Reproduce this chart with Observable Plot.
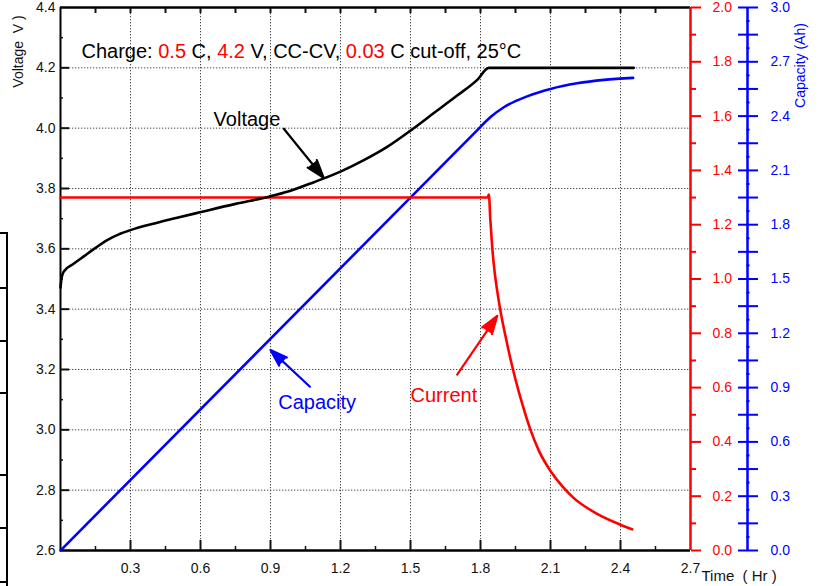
<!DOCTYPE html>
<html><head><meta charset="utf-8">
<script src="https://cdn.jsdelivr.net/npm/d3@7"></script>
<script src="https://cdn.jsdelivr.net/npm/@observablehq/plot@0.6"></script>
<style>
body{margin:0;background:#fff;}
#wrap{position:relative;width:820px;height:586px;overflow:hidden;background:#fff;}
#deco{position:absolute;left:0;top:233px;width:6px;height:360px;border-right:2px solid #000;}
.hl{position:absolute;left:0;width:8px;height:2px;background:#000;}
#chart{position:absolute;left:0;top:0;}
</style></head><body>
<div id="wrap">
<div id="chart"></div>
<div id="deco"></div>
<div class="hl" style="top:232px"></div>
<div class="hl" style="top:287px"></div>
<div class="hl" style="top:340px"></div>
<div class="hl" style="top:392px"></div>
<div class="hl" style="top:474px"></div>
<div class="hl" style="top:527px"></div>
<div class="hl" style="top:581px"></div>
</div>
<script>
// ---- data ----
const timeV   = [0, 0.004, 0.01, 0.02, 0.05, 0.1, 0.15, 0.2, 0.25, 0.3, 0.407, 0.5, 0.597, 0.75, 0.893, 0.979, 1.086, 1.2, 1.3, 1.4, 1.5, 1.6, 1.7, 1.786, 1.836, 2.0, 2.2, 2.457];
const voltage = [3.471, 3.50, 3.518, 3.530, 3.547, 3.575, 3.603, 3.629, 3.648, 3.662, 3.685, 3.703, 3.721, 3.749, 3.773, 3.791, 3.821, 3.856, 3.894, 3.938, 3.992, 4.05, 4.108, 4.16, 4.2, 4.2, 4.2, 4.2];

const timeI   = [0, 1.83, 1.836, 1.842, 1.85, 1.86, 1.871, 1.886, 1.907, 1.93, 1.95, 1.979, 2.014, 2.05, 2.1, 2.15, 2.2, 2.3, 2.4, 2.45];
const current = [1.3, 1.3, 1.311, 1.22, 1.12, 1.03, 0.96, 0.88, 0.79, 0.70, 0.63, 0.54, 0.445, 0.368, 0.293, 0.237, 0.193, 0.135, 0.095, 0.078];

const timeC    = [0, 1.78, 1.843, 1.9, 2.0, 2.1, 2.214, 2.329, 2.454];
const capacity = [0, 2.314, 2.395, 2.449, 2.509, 2.550, 2.581, 2.600, 2.611];

// ticks
const xLabelTicks = [0.3, 0.6, 0.9, 1.2, 1.5, 1.8, 2.1, 2.4, 2.7];
const xGridTicks  = [0.3, 0.6, 0.9, 1.2, 1.5, 1.8, 2.1, 2.4];
const xMinorTicks = [0.15, 0.45, 0.75, 1.05, 1.35, 1.65, 1.95, 2.25, 2.55];
const xTopTicks   = [0.15, 0.3, 0.45, 0.6, 0.75, 0.9, 1.05, 1.2, 1.35, 1.5, 1.65, 1.8, 1.95, 2.1, 2.25, 2.4, 2.55];
const vLabelTicks = [2.6, 2.8, 3.0, 3.2, 3.4, 3.6, 3.8, 4.0, 4.2, 4.4];
const vGridTicks  = [2.8, 3.0, 3.2, 3.4, 3.6, 3.8, 4.0, 4.2];
const vMinorTicks = [2.7, 2.9, 3.1, 3.3, 3.5, 3.7, 3.9, 4.1, 4.3];
const iLabelTicks = [0, 0.2, 0.4, 0.6, 0.8, 1.0, 1.2, 1.4, 1.6, 1.8, 2.0];
const iMinorTicks = [0.1, 0.3, 0.5, 0.7, 0.9, 1.1, 1.3, 1.5, 1.7, 1.9];
const cLabelTicks = [0, 0.3, 0.6, 0.9, 1.2, 1.5, 1.8, 2.1, 2.4, 2.7, 3.0];
const cMajorTicks = [0, 0.15, 0.3, 0.45, 0.6, 0.75, 0.9, 1.05, 1.2, 1.35, 1.5, 1.65, 1.8, 1.95, 2.1, 2.25, 2.4, 2.55, 2.7, 2.85, 3.0];
const cMinorTicks = [0.075, 0.225, 0.375, 0.525, 0.675, 0.825, 0.975, 1.125, 1.275, 1.425, 1.575, 1.725, 1.875, 2.025, 2.175, 2.325, 2.475, 2.625, 2.775, 2.925];

// annotations
const annLabels = ["Voltage", "Capacity", "Current"];
const annColors = ["black", "blue", "red"];
const annX      = [0.799, 1.1, 1.643];
const annY      = [4.027, 3.09, 3.115];
const arrowX1   = [0.957, 1.069, 1.7];
const arrowY1   = [3.998, 3.143, 3.183];
const arrowX2   = [1.128, 0.9, 1.872];
const arrowY2   = [3.835, 3.265, 3.378];

const chargeParts = [["Charge: ", "black"], ["0.5", "red"], [" C, ", "black"], ["4.2", "red"], [" V, CC-CV, ", "black"], ["0.03", "red"], [" C cut-off, 25°C", "black"]];
const chargeText = chargeParts.map(p => p[0]).join("");
const chargeX = 0.09, chargeY = 4.253;

// secondary axes mapped onto the voltage scale
const V0 = 2.6, voltsPerAmp = 0.9, voltsPerAh = 0.6;
const fromI = i => V0 + i * voltsPerAmp;
const fromC = c => V0 + c * voltsPerAh;

const vData = timeV.map((t, i) => ({t, v: voltage[i]}));
const iData = timeI.map((t, i) => ({t, v: fromI(current[i])}));
const cData = timeC.map((t, i) => ({t, v: fromC(capacity[i])}));
const anns = annLabels.map((s, i) => ({s, c: annColors[i], x: annX[i], y: annY[i], x1: arrowX1[i], y1: arrowY1[i], x2: arrowX2[i], y2: arrowY2[i]}));

const fmt1 = d3.format(".1f");
const dotted = {stroke: "#333", strokeWidth: 1, strokeDasharray: "1.3,1.7", strokeOpacity: 0.9};

const chart = Plot.plot({
  width: 820, height: 586,
  marginLeft: 60, marginRight: 130, marginTop: 7, marginBottom: 36,
  x: {domain: [0, 2.7]},
  y: {domain: [2.6, 4.4]},
  style: {fontFamily: "'Liberation Sans', Arial, sans-serif", fontSize: "14px", background: "white", color: "#111"},
  marks: [
    Plot.gridX(xGridTicks, dotted),
    Plot.gridY(vGridTicks, dotted),
    // frame
    Plot.ruleX([0], {stroke: "black", strokeWidth: 2}),
    Plot.ruleY([2.6], {stroke: "black", strokeWidth: 2.5}),
    Plot.ruleY([4.4], {stroke: "black", strokeWidth: 2.5}),
    // inward ticks
    Plot.axisX(xGridTicks, {anchor: "bottom", tickSize: 10, dy: -10, tickFormat: () => "", strokeWidth: 2, label: null}),
    Plot.axisX(xMinorTicks, {anchor: "bottom", tickSize: 4, dy: -4, tickFormat: () => "", strokeWidth: 1.5, label: null}),
    Plot.axisX(xTopTicks, {anchor: "top", tickSize: 5, dy: 5, tickFormat: () => "", strokeWidth: 2, label: null}),
    Plot.axisY(vGridTicks, {anchor: "left", tickSize: 9, dx: 9, tickFormat: () => "", strokeWidth: 2, label: null}),
    Plot.axisY(vMinorTicks, {anchor: "left", tickSize: 3, dx: 3, tickFormat: () => "", strokeWidth: 1.5, label: null}),
    // labels
    Plot.axisX(xLabelTicks, {anchor: "bottom", tickSize: 0, tickPadding: 13, tickFormat: fmt1, fontSize: 14, label: null}),
    Plot.axisY(vLabelTicks, {anchor: "left", tickSize: 0, tickPadding: 5, tickFormat: fmt1, fontSize: 14, label: null}),
    // current axis (red)
    Plot.ruleX([2.7], {stroke: "red", strokeWidth: 2.5}),
    Plot.axisY(iLabelTicks.map(fromI), {anchor: "right", tickSize: 10, tickPadding: 12, color: "red", strokeWidth: 2,
      tickFormat: v => fmt1((v - V0) / voltsPerAmp), fontSize: 14, label: null}),
    Plot.axisY(iMinorTicks.map(fromI), {anchor: "right", tickSize: 5, tickFormat: () => "", color: "red", strokeWidth: 2, label: null}),
    // capacity axis (blue)
    Plot.ruleX([2.7], {stroke: "blue", strokeWidth: 2.5, dx: 57}),
    Plot.axisY(cMajorTicks.map(fromC), {anchor: "right", tickSize: 20, dx: 47, tickFormat: () => "", color: "blue", strokeWidth: 2, label: null}),
    Plot.axisY(cMinorTicks.map(fromC), {anchor: "right", tickSize: 3, dx: 55.5, tickFormat: () => "", color: "blue", strokeWidth: 2, label: null}),
    Plot.axisY(cLabelTicks.map(fromC), {anchor: "right", tickSize: 0, tickPadding: 80, color: "blue",
      tickFormat: v => fmt1((v - V0) / voltsPerAh), fontSize: 14, label: null}),
    // series
    Plot.line(cData, {x: "t", y: "v", stroke: "blue", strokeWidth: 2.6, curve: "monotone-x"}),
    Plot.line(iData, {x: "t", y: "v", stroke: "red", strokeWidth: 2.6, curve: "monotone-x"}),
    Plot.line(vData, {x: "t", y: "v", stroke: "black", strokeWidth: 2.6, curve: "monotone-x"}),
    // annotations
    Plot.arrow(anns, {x1: "x1", y1: "y1", x2: "x2", y2: "y2", stroke: "c", strokeWidth: 2.2, headLength: 13, headAngle: 36}),
    Plot.text(anns, {x: "x", y: "y", text: "s", fill: "c", fontSize: 20, textAnchor: "middle", lineAnchor: "middle"}),
    Plot.text([chargeText], {x: () => chargeX, y: () => chargeY, text: d => d, fontSize: 20, textAnchor: "start", lineAnchor: "middle", fill: "black"}),
    // axis titles
    Plot.text(["Voltage  V )"], {frameAnchor: "top-left", dx: -42, dy: 44, rotate: -90, fontSize: 14, fill: "#111", textAnchor: "middle", lineAnchor: "middle"}),
    Plot.text(["Capacity (Ah)"], {frameAnchor: "top-right", dx: 110, dy: 58, rotate: -90, fontSize: 14, fill: "blue", textAnchor: "middle", lineAnchor: "middle"}),
    Plot.text(["Time  ( Hr )"], {frameAnchor: "bottom-right", dx: 11, dy: 25.5, textAnchor: "start", lineAnchor: "middle", fontSize: 15, fill: "#111"})
  ]
});

// colour the parts of the condition text
d3.select(chart).selectAll("text").filter(function() { return this.textContent === chargeText; }).each(function() {
  const t = d3.select(this);
  t.text(null).style("white-space", "pre");
  chargeParts.forEach(([s, c]) => t.append("tspan").attr("fill", c).text(s));
});
// filled arrowheads
d3.select(chart).selectAll("g[aria-label='arrow'] path").each(function() {
  const s = this.getAttribute("stroke");
  if (s) this.setAttribute("fill", s);
});

document.getElementById("chart").appendChild(chart);
</script>
</body></html>
